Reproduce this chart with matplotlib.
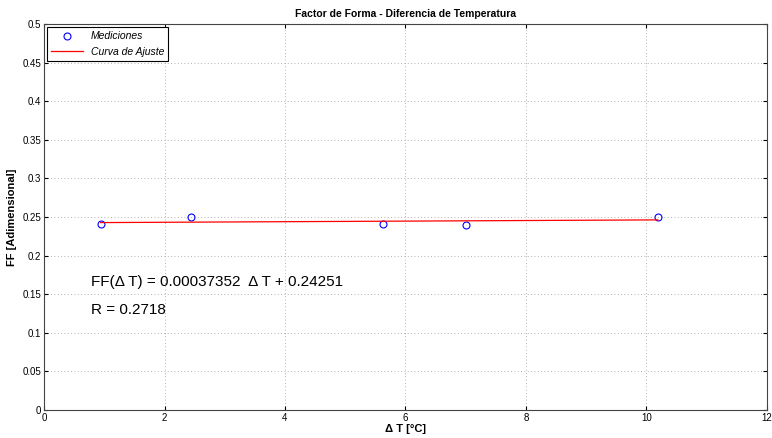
import numpy as np
import matplotlib
matplotlib.use("Agg")
import matplotlib.pyplot as plt

# Measured data
delta_t = [0.94, 2.44, 5.63, 7.0, 10.19]
ff = [0.241, 0.2495, 0.241, 0.2398, 0.2505]

# Fit line endpoints (from the equation shown on the chart)
fit_x = [0.94, 10.19]
fit_y = [0.2428, 0.2463]

eq_text = "FF(\u0394 T) = 0.00037352  \u0394 T + 0.24251"
r_text = "R = 0.2718"

x_ticks = [0, 2, 4, 6, 8, 10, 12]
y_ticks = [0, 0.05, 0.1, 0.15, 0.2, 0.25, 0.3, 0.35, 0.4, 0.45, 0.5]
y_labels = ["0", "0.05", "0.1", "0.15", "0.2", "0.25", "0.3", "0.35", "0.4", "0.45", "0.5"]

plt.rcParams["font.family"] = ["Liberation Sans", "DejaVu Sans"]

fig = plt.figure(figsize=(7.72, 4.38), dpi=100)
ax = fig.add_axes([0.057, 0.064, 0.9365, 0.881])

ax.plot(delta_t, ff, linestyle="none", marker="o", markersize=5,
        markerfacecolor="none", markeredgecolor="blue", markeredgewidth=0.8,
        label="Mediciones")
ax.plot(fit_x, fit_y, color="red", linewidth=0.9, label="Curva de Ajuste")

ax.set_xlim(0, 12)
ax.set_ylim(0, 0.5)
ax.set_xticks(x_ticks)
ax.set_yticks(y_ticks)
ax.set_yticklabels(y_labels)
ax.tick_params(direction="in", labelsize=7, top=True, right=True, length=3, pad=2)
ax.grid(True, linestyle=(0, (1, 3)), color="#999999", linewidth=0.6)

ax.text(0.78, 0.166, eq_text, fontsize=11, va="center")
ax.text(0.78, 0.13, r_text, fontsize=11, va="center")

ax.set_title("Factor de Forma - Diferencia de Temperatura", fontsize=7.5,
             fontweight="bold", pad=5)
ax.set_xlabel("\u0394 T [\u00b0C]", fontsize=8, fontweight="bold", labelpad=1)
ax.set_ylabel("FF [Adimensional]", fontsize=8, fontweight="bold", labelpad=4)

leg = ax.legend(loc="upper left", prop={"style": "italic", "size": 7.5},
                fancybox=False, edgecolor="black", framealpha=1,
                borderaxespad=0.3, handlelength=3)
leg.get_frame().set_linewidth(0.8)

for s in ax.spines.values():
    s.set_linewidth(0.8)
    s.set_color("#444444")

fig.savefig("out.png", dpi=100)
